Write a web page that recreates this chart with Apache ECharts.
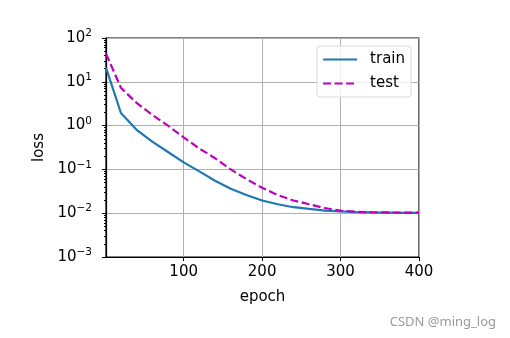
<!DOCTYPE html>
<html><head><meta charset="utf-8">
<script src="https://cdn.jsdelivr.net/npm/echarts@6/dist/echarts.min.js"></script>
<style>html,body{margin:0;padding:0;background:#fff}#c{width:510px;height:338px}</style>
</head><body><div id="c"></div>
<script>
const epochs = [1,20,40,60,80,100,120,140,160,180,200,220,240,260,280,300,320,340,360,380,400];
const trainLoss = [21,1.94,0.8,0.43,0.25,0.145,0.09,0.055,0.036,0.026,0.0195,0.016,0.0137,0.0125,0.0115,0.011,0.0106,0.0104,0.0103,0.0102,0.0102];
const testLoss = [44,7.3,3.3,1.76,1.0,0.54,0.3,0.18,0.1,0.06,0.038,0.026,0.0195,0.016,0.013,0.0115,0.0108,0.0105,0.0104,0.0103,0.0103];
const xTicks = [100,200,300,400];
const seriesNames = ['train','test'];

const font = 'DejaVu Sans';
const chart = echarts.init(document.getElementById('c'));
const sup = {'-3':'−3','-2':'−2','-1':'−1','0':'0','1':'1','2':'2'};
chart.setOption({
  animation:false,
  grid:{left:106,right:91,top:38,bottom:81,show:true,borderColor:'#000',borderWidth:1.2,backgroundColor:'transparent'},
  xAxis:{type:'value',min:1,max:400,name:'epoch',nameLocation:'middle',nameGap:33,
    nameTextStyle:{fontFamily:font,fontSize:15,color:'#000'},
    axisLine:{show:true,lineStyle:{color:'#000',width:1.2}},
    axisTick:{show:true,length:4,customValues:xTicks,lineStyle:{color:'#000'}},
    axisLabel:{customValues:xTicks,fontFamily:font,fontSize:15,color:'#000',margin:8},
    splitLine:{show:true,lineStyle:{color:'#b0b0b0',width:1}}
  },
  yAxis:{type:'log',logBase:10,min:0.001,max:100,name:'loss',nameLocation:'middle',nameGap:58,
    nameTextStyle:{fontFamily:font,fontSize:15,color:'#000'},
    axisLine:{show:true,lineStyle:{color:'#000',width:1.2}},
    axisTick:{show:true,length:4,lineStyle:{color:'#000'}},
    minorTick:{show:true,splitNumber:9,length:2,lineStyle:{color:'#000'}},
    axisLabel:{fontFamily:font,color:'#000',margin:14,
      formatter:v=>{const e=Math.round(Math.log10(v));return '{a|10}{b|'+sup[String(e)]+'}';},
      rich:{a:{fontFamily:font,fontSize:15,color:'#000'},b:{fontFamily:font,fontSize:10.5,color:'#000',padding:[0,0,9,0]}}},
    splitLine:{show:true,lineStyle:{color:'#b0b0b0',width:1}}
  },
  legend:{right:99,top:46,orient:'vertical',itemWidth:34,itemHeight:12,itemGap:9,
    padding:[6,6,6,5],borderColor:'#d9d9d9',borderWidth:1,borderRadius:3,backgroundColor:'rgba(255,255,255,0.8)',
    itemStyle:{opacity:0},
    textStyle:{fontFamily:font,fontSize:15,color:'#000',padding:[0,0,0,8]},data:seriesNames},
  series:[
    {name:seriesNames[0],type:'line',data:epochs.map((e,i)=>[e,trainLoss[i]]),showSymbol:false,symbol:'none',
      lineStyle:{color:'#1f77b4',width:2.2},itemStyle:{color:'#1f77b4'}},
    {name:seriesNames[1],type:'line',data:epochs.map((e,i)=>[e,testLoss[i]]),showSymbol:false,symbol:'none',
      lineStyle:{color:'#bf00bf',width:2.2,type:[8,3.5]},itemStyle:{color:'#bf00bf'}}
  ],
  graphic:[{type:'text',right:14,top:316,style:{text:'CSDN @ming_log',fontFamily:'Noto Sans',fontSize:13,fill:'#9a9a9a'}}]
});
</script></body></html>
